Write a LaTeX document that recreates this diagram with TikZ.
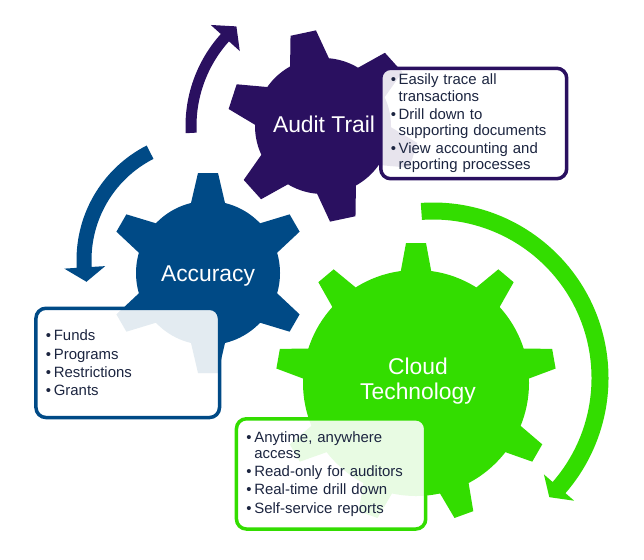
\documentclass[tikz,border=0pt]{standalone}
\usepackage{fontspec}
\setmainfont{Liberation Sans}
\usepackage{xcolor}
\usepackage{tikz}
\definecolor{auditcolor}{HTML}{2A1060}
\definecolor{accuracycolor}{HTML}{004A86}
\definecolor{cloudcolor}{HTML}{33DD00}
\definecolor{itemcolor}{HTML}{1C2540}
\newcommand{\bitem}{\makebox[4.5pt][l]{\textbullet}}
\newcommand{\bcont}{\hspace*{4.5pt}}

\tikzset{
  gearlabel/.style={text=white, align=center, font=\fontsize{13pt}{14.7pt}\selectfont},
  infobox/.style={rectangle, rounded corners=0.2cm, line width=0.07cm, fill=white, fill opacity=0.89, text opacity=1, text=itemcolor, align=left, anchor=north west, inner xsep=0.2cm, inner ysep=0.1cm, font=\fontsize{8.5pt}{9.2pt}\selectfont},
}

\begin{document}
\begin{tikzpicture}[x=0.02cm, y=0.02cm]%
\useasboundingbox (0,0) rectangle (644,-559);%
% gears
\begin{scope}[shift={(323,-126)}]
\fill[auditcolor] (0,0) circle (68);%
\foreach \a in {42,102,...,342}
  \fill[auditcolor, rotate=\a] (60,-21) -- (95,-13) -- (95,13) -- (60,21) -- cycle;%
\end{scope}
\begin{scope}[shift={(208,-273)}]
\fill[accuracycolor] (0,0) circle (72);%
\foreach \a in {30,90,...,330}
  \fill[accuracycolor, rotate=\a] (64,-18.4) -- (100,-10) -- (100,10) -- (64,18.4) -- cycle;%
\end{scope}
\begin{scope}[shift={(416,-383)}]
\fill[cloudcolor] (0,0) circle (113);%
\foreach \a in {10,50,...,330}
  \fill[cloudcolor, rotate=\a] (105,-16.5) -- (140,-10) -- (140,10) -- (105,16.5) -- cycle;%
\end{scope}
% circular arrows
\begin{scope}[shift={(323,-126)}]
\fill[auditcolor] (183:137.5) arc[start angle=183, end angle=138, radius=137.5] -- (138:151) -- (131:132) -- (138:112) -- (138:126.5) arc[start angle=138, end angle=183, radius=126.5] -- cycle;%
\end{scope}
\begin{scope}[shift={(205,-260)}]
\fill[accuracycolor] (117:128.5) arc[start angle=117, end angle=183.5, radius=128.5] -- (183.5:141) -- (190.4:120.5) -- (183.5:100) -- (183.5:113.5) arc[start angle=183.5, end angle=117, radius=113.5] -- cycle;%
\end{scope}
\begin{scope}[shift={(433,-378)}]
\fill[cloudcolor] (94:175.5) arc[start angle=94, end angle=-41, radius=175.5] -- (-41:187) -- (-45.7:166.5) -- (-41:147) -- (-41:158.5) arc[start angle=-41, end angle=94, radius=158.5] -- cycle;%
\end{scope}
% labels
\node[gearlabel] (audit) at (324,-124.5) {Audit Trail};%
\node[gearlabel] (accuracy) at (208,-275.5) {Accuracy};%
\node[gearlabel] (cloud) at (418,-381) {Cloud\\Technology};%
% text boxes
\node[infobox, draw=auditcolor, text width=3.32cm, minimum height=2.21cm] (auditlist) at (379,-66.5) {\bitem Easily trace all\\ \bcont transactions\\[1.2pt] \bitem Drill down to\\ \bcont supporting documents\\[1.2pt] \bitem View accounting and\\ \bcont reporting processes};%
\node[infobox, draw=accuracycolor, text width=3.272cm, minimum height=2.186cm] (accuracylist) at (34.2,-306.5) {\bitem Funds\\[1.2pt] \bitem Programs\\[1.2pt] \bitem Restrictions\\[1.2pt] \bitem Grants};%
\node[infobox, draw=cloudcolor, text width=3.386cm, minimum height=2.206cm] (cloudlist) at (234.7,-417) {\bitem Anytime, anywhere\\ \bcont access\\[1.2pt] \bitem Read-only for auditors\\[1.2pt] \bitem Real-time drill down\\[1.2pt] \bitem Self-service reports};%
\end{tikzpicture}
\end{document}
